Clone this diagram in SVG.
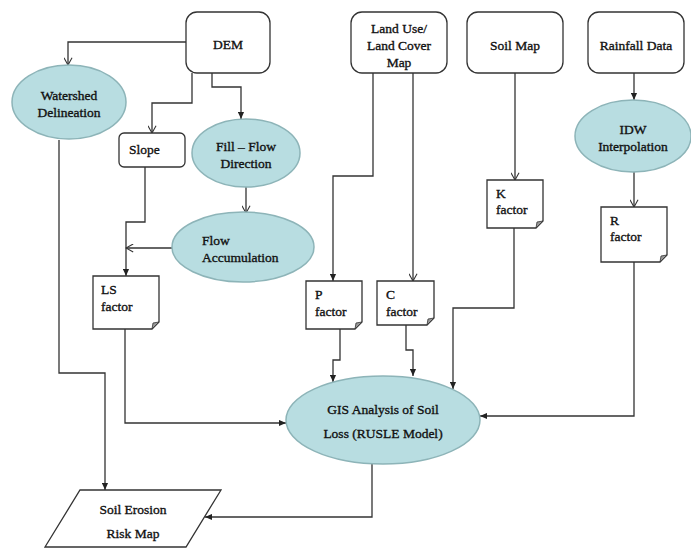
<svg xmlns="http://www.w3.org/2000/svg" width="691" height="548" viewBox="0 0 691 548">
<style>
.box{fill:#fff;stroke:#333;stroke-width:1.3}
.ell{fill:#b8dde1;stroke:#8db4b8;stroke-width:1.5}
.doc{fill:#fff;stroke:#333;stroke-width:1.3}
.fold{fill:#999;stroke:#333;stroke-width:0.8}
text{font-family:'Liberation Serif','Times New Roman',serif;font-size:13.5px;font-weight:normal;fill:#111;stroke:#111;stroke-width:0.35}
.c{text-anchor:middle}
.ln{fill:none;stroke:#333;stroke-width:1.3}
.fa{marker-end:url(#fill)}
.oa{marker-end:url(#open)}
</style>
<defs>
<marker id="fill" markerUnits="userSpaceOnUse" viewBox="0 0 8 8" refX="8" refY="4" markerWidth="7" markerHeight="7" orient="auto">
<path d="M0,0.5 L8,4 L0,7.5 z" fill="#222"/>
</marker>
<marker id="open" markerUnits="userSpaceOnUse" viewBox="0 0 10 10" refX="9" refY="5" markerWidth="9" markerHeight="9" orient="auto">
<path d="M1,0.5 L9,5 L1,9.5" fill="none" stroke="#333" stroke-width="1.2"/>
</marker>
</defs>
<rect width="691" height="548" fill="#fff"/>

<g id="connectors">
<path class="ln oa" d="M186,42 H68 V65"/>
<path class="ln oa" d="M192,73 V103 H152 V133"/>
<path class="ln fa" d="M212,73 V87 H241 V119"/>
<path class="ln oa" d="M246,187 V213"/>
<path class="ln oa" d="M172,248 H126"/>
<path class="ln fa" d="M145,167 V222 H126 V276"/>
<path class="ln fa" d="M59,140 V373 H105 V490"/>
<path class="ln fa" d="M125,329 V423 H286"/>
<path class="ln fa" d="M372,463 V517 H205"/>
<path class="ln fa" d="M373,73 V176 H333 V281"/>
<path class="ln oa" d="M413,73 V281"/>
<path class="ln oa" d="M515,73 V180"/>
<path class="ln fa" d="M514,228 V308 H453 V389"/>
<path class="ln fa" d="M634,73 V100"/>
<path class="ln oa" d="M634,172 V207"/>
<path class="ln fa" d="M634,262 V416 H480"/>
<path class="ln fa" d="M340,329 V360 H333 V382"/>
<path class="ln fa" d="M406,325 V350 H413 V376"/>
</g>

<g id="dem">
<rect class="box" x="186" y="12" width="84" height="61" rx="11"/>
<text class="c" x="228" y="49">DEM</text>
</g>
<g id="landuse">
<rect class="box" x="351" y="12" width="96" height="61" rx="11"/>
<text class="c" x="399" y="33">Land Use/</text>
<text class="c" x="399" y="50">Land Cover</text>
<text class="c" x="399" y="67">Map</text>
</g>
<g id="soilmap">
<rect class="box" x="467" y="12" width="96" height="61" rx="11"/>
<text class="c" x="515" y="50">Soil Map</text>
</g>
<g id="rainfall">
<rect class="box" x="588" y="12" width="96" height="61" rx="11"/>
<text class="c" x="636" y="50">Rainfall Data</text>
</g>
<g id="watershed">
<ellipse class="ell" cx="69" cy="102" rx="57" ry="37"/>
<text class="c" x="69" y="100">Watershed</text>
<text class="c" x="69" y="117">Delineation</text>
</g>
<g id="slope">
<rect class="box" x="119" y="133" width="66" height="34" rx="5"/>
<text x="129" y="154">Slope</text>
</g>
<g id="fill">
<ellipse class="ell" cx="246" cy="153" rx="54" ry="34"/>
<text class="c" x="246" y="151">Fill – Flow</text>
<text class="c" x="246" y="168">Direction</text>
</g>
<g id="flowacc">
<ellipse class="ell" cx="243" cy="247" rx="71" ry="35"/>
<text x="202" y="245">Flow</text>
<text x="202" y="262">Accumulation</text>
</g>
<g id="idw">
<ellipse class="ell" cx="633" cy="136" rx="58" ry="36"/>
<text class="c" x="633" y="134">IDW</text>
<text class="c" x="633" y="151">Interpolation</text>
</g>
<g id="ls">
<path class="doc" d="M93,276 H159 V322 L152,329 H93 Z"/>
<path class="fold" d="M159,322 L152,329 L153,323 Z"/>
<text x="101" y="294">LS</text>
<text x="101" y="311">factor</text>
</g>
<g id="p">
<path class="doc" d="M306,281 H362 V322 L355,329 H306 Z"/>
<path class="fold" d="M362,322 L355,329 L356,323 Z"/>
<text x="315" y="299">P</text>
<text x="315" y="316">factor</text>
</g>
<g id="c">
<path class="doc" d="M377,281 H434 V318 L427,325 H377 Z"/>
<path class="fold" d="M434,318 L427,325 L428,319 Z"/>
<text x="386" y="299">C</text>
<text x="386" y="316">factor</text>
</g>
<g id="k">
<path class="doc" d="M487,180 H543 V221 L536,228 H487 Z"/>
<path class="fold" d="M543,221 L536,228 L537,222 Z"/>
<text x="496" y="198">K</text>
<text x="496" y="214">factor</text>
</g>
<g id="r">
<path class="doc" d="M601,207 H667 V255 L660,262 H601 Z"/>
<path class="fold" d="M667,255 L660,262 L661,256 Z"/>
<text x="610" y="225">R</text>
<text x="610" y="241">factor</text>
</g>
<g id="gis">
<ellipse class="ell" cx="383" cy="420" rx="97" ry="44"/>
<text class="c" x="383" y="414">GIS Analysis of  Soil</text>
<text class="c" x="383" y="438">Loss (RUSLE Model)</text>
</g>
<g id="erosion">
<path class="box" d="M80,490 H221 L186,547 H45 Z"/>
<text class="c" x="133" y="514">Soil Erosion</text>
<text class="c" x="133" y="538">Risk Map</text>
</g>
</svg>
